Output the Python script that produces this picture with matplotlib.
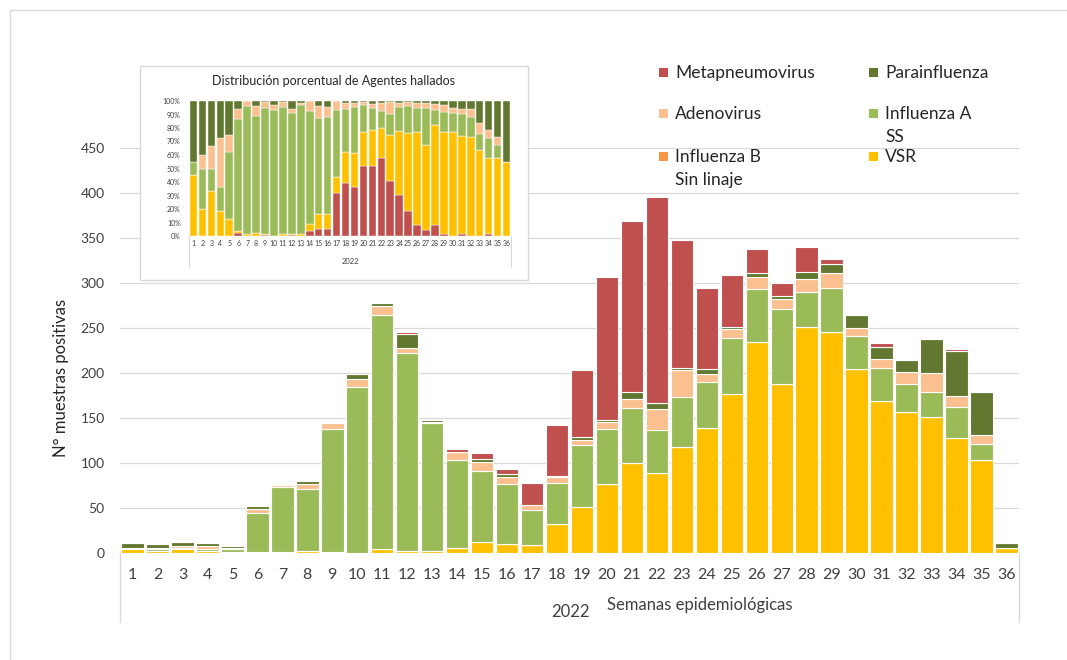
import matplotlib.pyplot as plt
from matplotlib.patches import Rectangle
from matplotlib.lines import Line2D

plt.rcParams['font.family'] = ['Lato', 'DejaVu Sans']

# semanas epidemiologicas 2022, n de muestras positivas por agente
semanas = list(range(1, 37))
vsr = [5, 2, 4, 2, 1, 1, 1, 2, 1, 0, 4, 2, 2, 6, 12, 10, 9, 32,
       51, 77, 100, 89, 118, 139, 177, 234, 188, 251, 246, 204, 169, 157, 151, 128, 103, 6]
influenza_b = [0, 0, 0, 0, 0, 0, 0, 0, 0, 0, 0, 0, 0, 0, 0, 0, 0, 0,
               0, 0, 0, 0, 0, 0, 0, 0, 0, 0, 0, 0, 0, 0, 0, 0, 0, 0]
influenza_a = [1, 3, 2, 2, 4, 44, 72, 69, 137, 185, 261, 220, 142, 97, 79, 67, 39, 46,
               69, 61, 61, 48, 55, 51, 62, 59, 83, 39, 49, 37, 37, 31, 28, 34, 18, 0]
adenovirus = [0, 1, 2, 4, 1, 4, 3, 6, 7, 8, 10, 6, 2, 9, 10, 7, 5, 6,
              6, 8, 10, 23, 30, 9, 10, 14, 11, 15, 16, 9, 10, 13, 21, 13, 10, 0]
parainfluenza = [5, 4, 4, 3, 2, 3, 0, 3, 1, 6, 3, 15, 2, 0, 4, 4, 0, 2,
                 3, 2, 8, 7, 3, 5, 2, 4, 4, 7, 10, 14, 13, 13, 38, 49, 48, 5]
metapneumovirus = [0, 0, 0, 0, 0, 1, 0, 0, 1, 0, 1, 2, 0, 4, 6, 5, 25, 56,
                   74, 159, 190, 229, 142, 90, 58, 27, 14, 28, 6, 0, 4, 0, 0, 3, 0, 0]

nombres = ['VSR', 'Influenza B Sin linaje', 'Influenza A SS', 'Adenovirus',
           'Parainfluenza', 'Metapneumovirus']
colores = {'VSR': '#FFC000', 'Influenza B Sin linaje': '#F79646',
           'Influenza A SS': '#9BBB59', 'Adenovirus': '#FAC090',
           'Parainfluenza': '#62772F', 'Metapneumovirus': '#C0504D'}
series = {'VSR': vsr, 'Influenza B Sin linaje': influenza_b,
          'Influenza A SS': influenza_a, 'Adenovirus': adenovirus,
          'Parainfluenza': parainfluenza, 'Metapneumovirus': metapneumovirus}

W, H = 1067, 660
fig = plt.figure(figsize=(W / 100, H / 100), dpi=100)


def fx(px):
    return px / W


def fy(py):
    return 1 - py / H


gris = '#D9D9D9'
texto = '#404040'

# borde exterior
fig.add_artist(Line2D([fx(10), 1], [fy(10), fy(10)], color=gris, lw=1))
fig.add_artist(Line2D([fx(10), fx(10)], [0, fy(10)], color=gris, lw=1))

# grafico principal
ax = fig.add_axes([fx(120), fy(553), fx(1019) - fx(120), fy(148) - fy(553)])
base = [0] * 36
for n in nombres:
    ax.bar(semanas, series[n], bottom=base, width=0.9, color=colores[n],
           edgecolor='white', linewidth=0.8, zorder=2)
    base = [b + v for b, v in zip(base, series[n])]

ax.set_xlim(0.5, 36.5)
ax.set_ylim(0, 450)
ax.set_yticks(range(0, 451, 50))
ax.set_xticks(semanas)
ax.set_xticklabels([str(s) for s in semanas])
ax.tick_params(axis='x', length=0, pad=11, labelsize=11.5, colors=texto)
ax.tick_params(axis='y', length=0, pad=11, labelsize=10, colors=texto)
ax.yaxis.grid(True, color=gris, lw=0.9)
ax.set_axisbelow(True)
for s in ax.spines.values():
    s.set_visible(False)

# separadores del eje de categorias
prof = (622 - 553) / (553 - 148)
for xa in (0, 1):
    ax.plot([xa, xa], [0, -prof], transform=ax.transAxes, color=gris, lw=1,
            clip_on=False)

fig.text(fx(570), fy(612), '2022', ha='center', va='center', fontsize=12, color=texto)
fig.text(fx(700), fy(605), 'Semanas epidemiológicas', ha='center', va='center',
         fontsize=12, color=texto)
fig.text(fx(61), fy(378), 'N° muestras positivas', ha='center', va='center',
         rotation=90, fontsize=12, color='#262626')

# leyenda (orden de Excel, por filas)
leyenda = [('Metapneumovirus', 663, 73), ('Parainfluenza', 873, 73),
           ('Adenovirus', 663, 114), ('Influenza A SS', 873, 114),
           ('Influenza B Sin linaje', 663, 157), ('VSR', 873, 157)]
for n, lx, ly in leyenda:
    fig.add_artist(Rectangle((fx(lx - 4), fy(ly + 4)), 9 / W, 9 / H,
                             transform=fig.transFigure, color=colores[n], lw=0))
    lineas = n.replace('Influenza A ', 'Influenza A\n').replace('Influenza B ', 'Influenza B\n').split('\n')
    for i, t in enumerate(lineas):
        fig.text(fx(lx + 12), fy(ly + 23 * i), t, ha='left', va='center',
                 fontsize=12.5, color='#262626')

# recuadro del grafico porcentual
fig.add_artist(Rectangle((fx(140), fy(280)), (528 - 140) / W, (280 - 66) / H,
                         transform=fig.transFigure, facecolor='white',
                         edgecolor=gris, lw=1, zorder=1))
fig.text(fx(334), fy(81), 'Distribución porcentual de Agentes hallados',
         ha='center', va='center', fontsize=9, color='#262626', zorder=3)

ins = fig.add_axes([fx(189), fy(236), fx(511) - fx(189), fy(101) - fy(236)])
ins.set_zorder(2)
totales = [sum(series[n][i] for n in nombres) for i in range(36)]
orden_ins = ['Metapneumovirus', 'VSR', 'Influenza B Sin linaje', 'Influenza A SS',
             'Adenovirus', 'Parainfluenza']
base = [0] * 36
for n in orden_ins:
    pct = [v / t * 100 for v, t in zip(series[n], totales)]
    ins.bar(semanas, pct, bottom=base, width=0.85, color=colores[n],
            edgecolor='white', linewidth=0.3)
    base = [b + p for b, p in zip(base, pct)]
ins.set_xlim(0.5, 36.5)
ins.set_ylim(0, 100)
ins.set_yticks(range(0, 101, 10))
ins.set_yticklabels([f'{p}%' for p in range(0, 101, 10)])
ins.set_xticks(semanas)
ins.set_xticklabels([str(s) for s in semanas])
ins.tick_params(axis='x', length=0, pad=3, labelsize=5, colors=texto)
ins.tick_params(axis='y', length=0, pad=6, labelsize=5, colors=texto)
for s in ins.spines.values():
    s.set_visible(False)
prof_i = (267 - 236) / (236 - 101)
for xa in (0, 1):
    ins.plot([xa, xa], [0, -prof_i], transform=ins.transAxes, color=gris, lw=0.8,
             clip_on=False)
fig.text(fx(350), fy(262), '2022', ha='center', va='center', fontsize=5.5,
         color=texto, zorder=3)

fig.savefig('out.png', dpi=100)
